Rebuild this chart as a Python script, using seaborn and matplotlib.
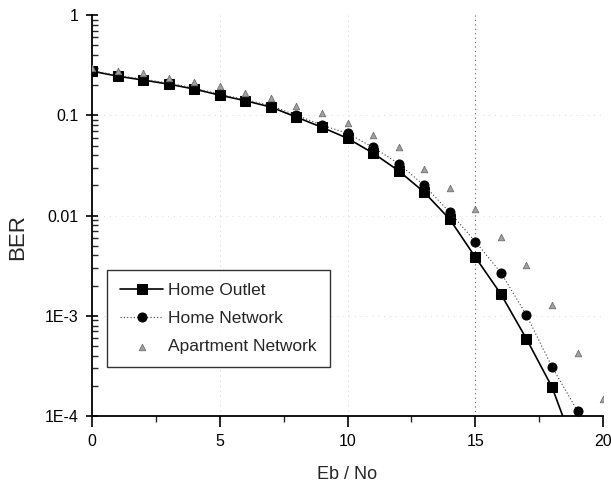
import numpy as np
import pandas as pd
import matplotlib
matplotlib.use("Agg")
import matplotlib.pyplot as plt
import seaborn as sns
from matplotlib.ticker import FixedLocator, LogLocator, NullFormatter

# Eb/No values (dB)
ebno = [0, 1, 2, 3, 4, 5, 6, 7, 8, 9, 10, 11, 12, 13, 14, 15, 16, 17, 18, 19, 20]

# BER readings for each channel
home_outlet = [0.276, 0.246, 0.225, 0.205, 0.183, 0.159, 0.140, 0.121, 0.096, 0.076,
               0.059, 0.042, 0.028, 0.0171, 0.0092, 0.00385, 0.00165, 5.9e-4, 1.95e-4,
               4.0e-5, np.nan]
home_network = [0.28, 0.25, 0.23, 0.21, 0.187, 0.163, 0.143, 0.125, 0.100, 0.080,
                0.066, 0.048, 0.033, 0.020, 0.0108, 0.0055, 0.0027, 0.00102, 3.1e-4,
                1.12e-4, np.nan]
apartment_network = [0.30, 0.28, 0.265, 0.235, 0.215, 0.196, 0.167, 0.149, 0.124, 0.105,
                     0.084, 0.064, 0.048, 0.029, 0.019, 0.0116, 0.0061, 0.0032, 0.00128,
                     4.25e-4, 1.48e-4]

df = pd.DataFrame({"ebno": ebno, "outlet": home_outlet,
                   "network": home_network, "apartment": apartment_network})

sns.set_style("ticks")
plt.rcParams['font.family'] = ['Liberation Sans', 'DejaVu Sans']

fig = plt.figure(figsize=(6.11, 4.88), dpi=100)
ax = fig.add_axes([0.1506, 0.1475, 0.8364, 0.8215])

# faint dotted grid, the 15 dB line is darker
for xv in [5, 10]:
    ax.axvline(xv, color='#c0c0c0', lw=0.6, ls=(0, (1, 5)), zorder=0)
ax.axvline(15, color='#606060', lw=0.8, ls=(0, (1, 3)), zorder=0)
for yv in [0.1, 0.01, 1e-3]:
    ax.axhline(yv, color='#d0d0d0', lw=0.6, ls=(0, (1, 6)), zorder=0)

sns.lineplot(data=df, x="ebno", y="outlet", ax=ax, color='black', lw=1.2,
             marker='s', markersize=6.5, markeredgecolor='black', label='Home Outlet')
sns.lineplot(data=df, x="ebno", y="network", ax=ax, color='#404040', lw=0.8,
             ls=(0, (1, 2)), marker='o', markersize=6.5, markerfacecolor='black',
             markeredgecolor='black', label='Home Network')
sns.scatterplot(data=df, x="ebno", y="apartment", ax=ax, color='#a0a0a0',
                marker='^', s=22, edgecolor='#707070', linewidth=0.6,
                label='Apartment Network', zorder=3)

ax.set_yscale('log')
ax.set_xlim(0, 20)
ax.set_ylim(1e-4, 1)
ax.set_yticks([1e-4, 1e-3, 1e-2, 0.1, 1])
ax.set_yticklabels(['1E-4', '1E-3', '0.01', '0.1', '1'])
ax.yaxis.set_minor_locator(LogLocator(base=10, subs=np.arange(2, 10)))
ax.yaxis.set_minor_formatter(NullFormatter())
ax.set_xticks([0, 5, 10, 15, 20])
ax.xaxis.set_minor_locator(FixedLocator([2.5, 7.5, 12.5, 17.5]))

ax.tick_params(labelsize=11.5, color='black', labelcolor='black')
ax.tick_params(axis='y', which='major', direction='inout', length=8, width=1.2, pad=6)
ax.tick_params(axis='y', which='minor', direction='in', length=4.5, width=1.0)
ax.tick_params(axis='x', which='major', direction='out', length=8, width=1.2, pad=5)
ax.tick_params(axis='x', which='minor', direction='out', length=4.5, width=1.0)

for side in ['top', 'right']:
    ax.spines[side].set_visible(False)
for side in ['left', 'bottom']:
    ax.spines[side].set_linewidth(1.3)
    ax.spines[side].set_color('black')

ax.set_xlabel('Eb / No', fontsize=13, labelpad=12)
ax.set_ylabel('BER', fontsize=16)
ax.yaxis.set_label_coords(-0.125, 0.446)

leg = ax.legend(loc='lower left', bbox_to_anchor=(0.029, 0.122), fontsize=12.5,
                frameon=True, fancybox=False, edgecolor='black',
                borderpad=0.75, labelspacing=0.75, handlelength=2.5,
                handletextpad=0.3, borderaxespad=0)
leg.get_frame().set_linewidth(1.0)

fig.savefig('out.png', dpi=100)
